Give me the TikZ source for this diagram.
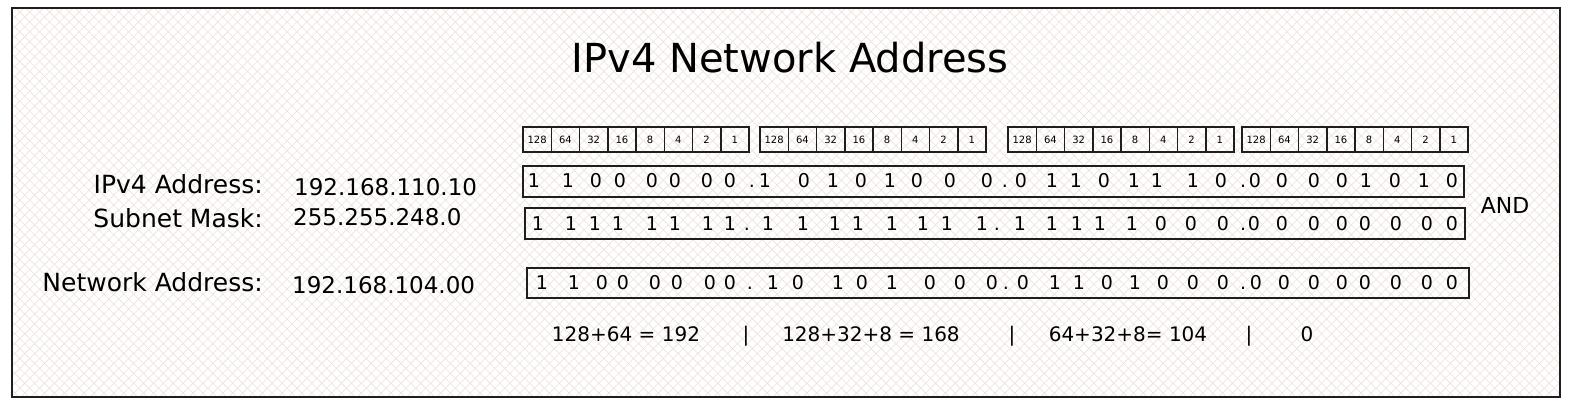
\documentclass[tikz,border=0pt]{standalone}
\usepackage{fontspec}
\setmainfont{DejaVu Sans}
\usetikzlibrary{positioning,patterns.meta}
\definecolor{hatch}{RGB}{240,228,224}
\definecolor{ink}{RGB}{30,30,30}

\begin{document}
\begin{tikzpicture}[x=1pt,y=-1pt,
   title/.style={font=\fontsize{40}{48}\selectfont, anchor=base, inner sep=0},
   label/.style={font=\fontsize{25}{30}\selectfont, anchor=base east, inner sep=0},
   value/.style={font=\fontsize{23}{27}\selectfont, anchor=base west, inner sep=0},
   weight/.style={draw=ink, line width=1.5pt, minimum width=28.25, minimum height=25,
                  inner sep=0, font=\fontsize{10}{11}\selectfont},
   rowbox/.style={draw=ink, line width=1.7pt, inner sep=0},
   bit/.style={font=\fontsize{19}{22}\selectfont, anchor=base, inner sep=0},
   sum/.style={font=\fontsize{20}{24}\selectfont, anchor=base, inner sep=0}]
   \useasboundingbox (0,0) rectangle (1570,408);

   % hatched sheet
   \fill[pattern={Lines[angle=45,distance=7pt,line width=0.8pt]}, pattern color=hatch]
      (12,8) rectangle (1560,397);
   \fill[pattern={Lines[angle=-45,distance=7pt,line width=0.8pt]}, pattern color=hatch]
      (12,8) rectangle (1560,397);
   \draw[ink, line width=1.8pt] (12,8) rectangle (1560,397);

   \node[title] (head) at (790,72) {IPv4 Network Address};

   % place values of each octet
   \foreach \g/\s in {0/523, 1/760, 2/1008, 3/1242}
      \foreach \v [count=\i from 0] in {128,64,32,16,8,4,2,1}
         \node[weight] (w\g-\i) at ({\s+28.25*(\i+0.5)},139.5) {\v};

   \node[label] (iplabel)   at (263,193) {IPv4 Address:};
   \node[label] (masklabel) at (263,227) {Subnet Mask:};
   \node[label] (netlabel)  at (263,291) {Network Address:};
   \node[value] (ipval)   at (294,195) {192.168.110.10};
   \node[value] (maskval) at (293,225) {255.255.248.0};
   \node[value] (netval)  at (292,293) {192.168.104.00};

   \node[rowbox, minimum width=941, minimum height=31] (iprow)   at (993.5,181.5) {};
   \node[rowbox, minimum width=940, minimum height=31] (maskrow) at (995,223.5) {};
   \node[rowbox, minimum width=942, minimum height=30] (netrow)  at (998,283) {};

   \foreach \x/\b [count=\i] in {534/1,568/1,596/0,620/0,652/0,675/0,707/0,730/0,752/.,
      765/1,804/0,833/1,861/0,890/1,917/0,950/0,987/0,1005/.,
      1021/0,1052/1,1076/1,1104/0,1134/1,1157/1,1193/1,1221/0,1243/.,
      1255/0,1282/0,1314/0,1342/0,1366/1,1395/0,1424/1,1452/0}
      \node[bit] (ip\i) at (\x,187) {\b};

   \foreach \x/\b [count=\i] in {538/1,571/1,595/1,618/1,652/1,675/1,708/1,730/1,747/.,
      768/1,803/1,835/1,858/1,892/1,923/1,947/1,982/1,997/.,
      1020/1,1052/1,1077/1,1100/1,1132/1,1161/0,1191/0,1223/0,1243/.,
      1254/0,1282/0,1314/0,1342/0,1365/0,1396/0,1427/0,1452/0}
      \node[bit] (mask\i) at (\x,230) {\b};

   \foreach \x/\b [count=\i] in {542/1,574/1,602/0,623/0,655/0,677/0,710/0,730/0,750/.,
      773/1,798/0,838/1,862/0,892/1,930/0,960/0,992/0,1006/.,
      1023/0,1055/1,1079/1,1107/0,1135/1,1163/0,1193/0,1223/0,1243/.,
      1256/0,1284/0,1314/0,1342/0,1365/0,1396/0,1427/0,1452/0}
      \node[bit] (net\i) at (\x,289) {\b};

   \node[font=\fontsize{22}{26}\selectfont, inner sep=0] (and) at (1505,205) {AND};

   % decimal value of each octet
   \node[sum] (sum1) at (626,341)  {128+64 = 192};
   \node[sum] (bar1) at (746,341)  {|};
   \node[sum] (sum2) at (871,341)  {128+32+8 = 168};
   \node[sum] (bar2) at (1012,341) {|};
   \node[sum] (sum3) at (1128,341) {64+32+8= 104};
   \node[sum] (bar3) at (1249,341) {|};
   \node[sum] (sum4) at (1307,341) {0};
\end{tikzpicture}
\end{document}
